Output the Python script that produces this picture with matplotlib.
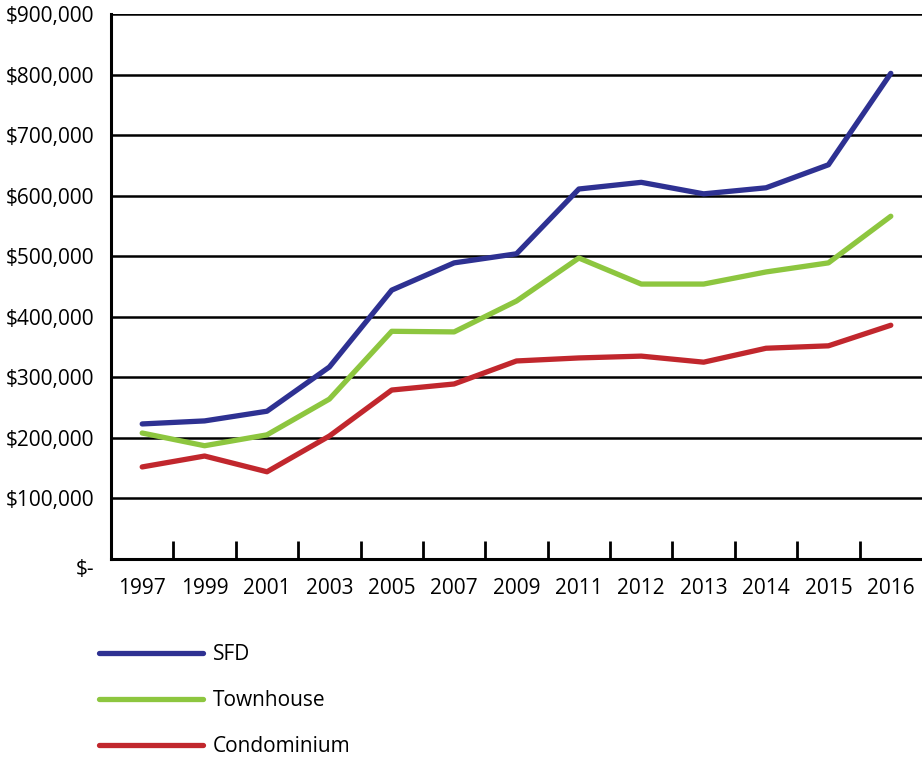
import numpy as np
import matplotlib.pyplot as plt
from matplotlib.ticker import FuncFormatter, FixedLocator

plt.rcParams['font.family'] = ['Open Sans', 'DejaVu Sans']

# данные
years = ['1997', '1999', '2001', '2003', '2005', '2007', '2009',
         '2011', '2012', '2013', '2014', '2015', '2016']
sfd = [223000, 228000, 244000, 317000, 444000, 489000, 504000,
       611000, 622000, 603000, 613000, 651000, 802000]
townhouse = [208000, 187000, 205000, 264000, 376000, 375000, 426000,
             497000, 454000, 454000, 474000, 489000, 566000]
condo = [152000, 170000, 144000, 203000, 279000, 289000, 327000,
         332000, 335000, 325000, 348000, 352000, 386000]

fig = plt.figure(figsize=(9.22, 7.57), dpi=100)
ax = fig.add_axes([0.1204, 0.2616, 0.8796, 0.7199])

x = np.arange(len(years))
ax.plot(x, sfd, color='#2e3192', lw=3.8, label='SFD', solid_capstyle='round')
ax.plot(x, townhouse, color='#8dc63f', lw=3.8, label='Townhouse', solid_capstyle='round')
ax.plot(x, condo, color='#c1272d', lw=3.8, label='Condominium', solid_capstyle='round')

ax.set_xlim(-0.5, len(years) - 0.5)
ax.set_ylim(0, 900000)
ax.set_yticks(np.arange(0, 900001, 100000))
ax.yaxis.set_major_formatter(FuncFormatter(lambda v, p: '$-' if v == 0 else f'${v:,.0f}'))
ax.grid(axis='y', color='black', lw=1.8)
ax.set_axisbelow(True)

ax.set_xticks(x)
ax.set_xticklabels(years)
ax.xaxis.set_minor_locator(FixedLocator(np.arange(0.5, len(years) - 1, 1)))
ax.tick_params(axis='x', which='major', length=0, pad=14, labelsize=15)
ax.tick_params(axis='x', which='minor', direction='in', length=13, width=2, color='black')
ax.tick_params(axis='y', length=0, pad=12, labelsize=15)

for lab in ax.get_yticklabels():
    if lab.get_text() == '$-':
        lab.set_va('top')

for s in ['top', 'right']:
    ax.spines[s].set_visible(False)
for s in ['left', 'bottom']:
    ax.spines[s].set_linewidth(2.2)
    ax.spines[s].set_color('black')

fig.legend(loc='upper left', bbox_to_anchor=(0.087, 0.174), frameon=False,
           fontsize=15, handlelength=5.0, handletextpad=0.45, labelspacing=1.2)

fig.savefig('out.png', dpi=100)
